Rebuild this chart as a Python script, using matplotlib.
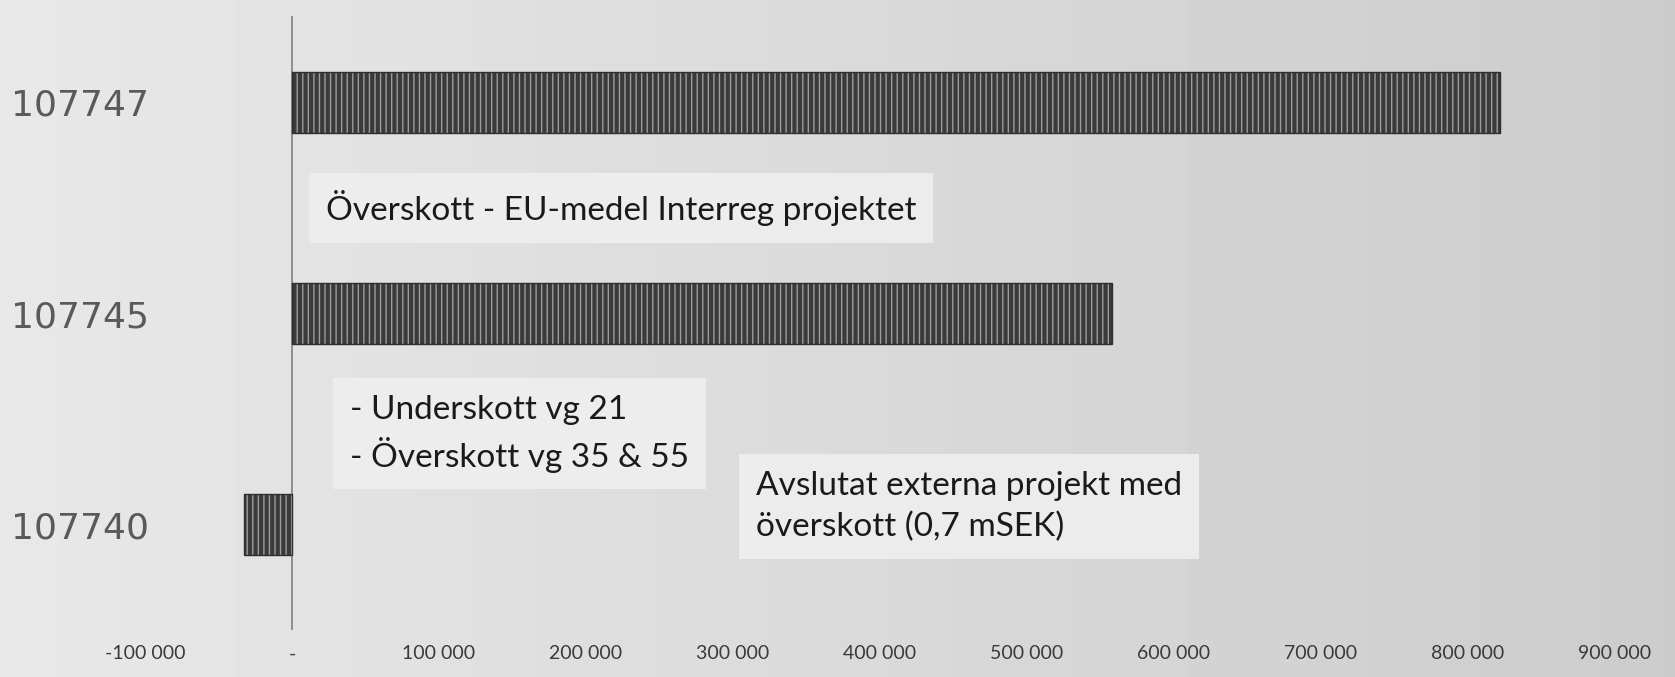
import numpy as np
import matplotlib.pyplot as plt

# data
kontor = ['107740', '107745', '107747']
belopp = [-33000, 558000, 822000]
xticks = [-100000, 0, 100000, 200000, 300000, 400000, 500000, 600000, 700000, 800000, 900000]
xlabels = ['-100 000', '-', '100 000', '200 000', '300 000', '400 000',
           '500 000', '600 000', '700 000', '800 000', '900 000']

fig = plt.figure(figsize=(16.75, 6.77), dpi=100)

# grått papper i bakgrunden (ljusare till vänster)
grad = np.tile(np.linspace(0.91, 0.80, 1675), (677, 1))
fig.figimage(grad, cmap='gray', vmin=0, vmax=1, zorder=-10)

ax = fig.add_axes([0.0603, 0.0694, 0.930, 0.907])
ax.patch.set_alpha(0)

y = np.arange(len(kontor))
ax.barh(y, belopp, height=0.29, color='#3a3a3a', edgecolor='#9c9c9c',
        hatch='|||', linewidth=0, zorder=2)
ax.barh(y, belopp, height=0.29, fill=False, edgecolor='#2e2e2e', linewidth=1, zorder=3)

ax.axvline(0, color='#808080', linewidth=1.2, zorder=1)

ax.set_xlim(-130000, 930000)
ax.set_ylim(-0.5, 2.41)

for s in ax.spines.values():
    s.set_visible(False)

ax.set_yticks(y)
ax.set_yticklabels(kontor, fontsize=26, color='#5a5a5a', family='DejaVu Sans')
for lbl in ax.get_yticklabels():
    lbl.set_ha('left')
    lbl.set_va('center_baseline')
ax.tick_params(axis='y', length=0, pad=65)

ax.set_xticks(xticks)
ax.set_xticklabels(xlabels, fontsize=14, color='#3a3a3a', family='Lato')
ax.tick_params(axis='x', length=0, pad=11)

box = dict(boxstyle='square,pad=0.5', facecolor='#efefef', edgecolor='none', alpha=0.9)
ax.text(23000, 1.50, 'Överskott - EU-medel Interreg projektet', fontsize=24,
        family='Lato', color='#1a1a1a', va='center', ha='left', bbox=box, zorder=4)
ax.text(39500, 0.43, '- Underskott vg 21\n- Överskott vg 35 & 55', fontsize=24,
        family='Lato', color='#1a1a1a', va='center', ha='left', linespacing=1.4,
        bbox=box, zorder=4)
ax.text(315600, 0.085, 'Avslutat externa projekt med\növerskott (0,7 mSEK)', fontsize=24,
        family='Lato', color='#1a1a1a', va='center', ha='left', linespacing=1.45,
        bbox=box, zorder=4)

fig.savefig('out.png', dpi=100)
